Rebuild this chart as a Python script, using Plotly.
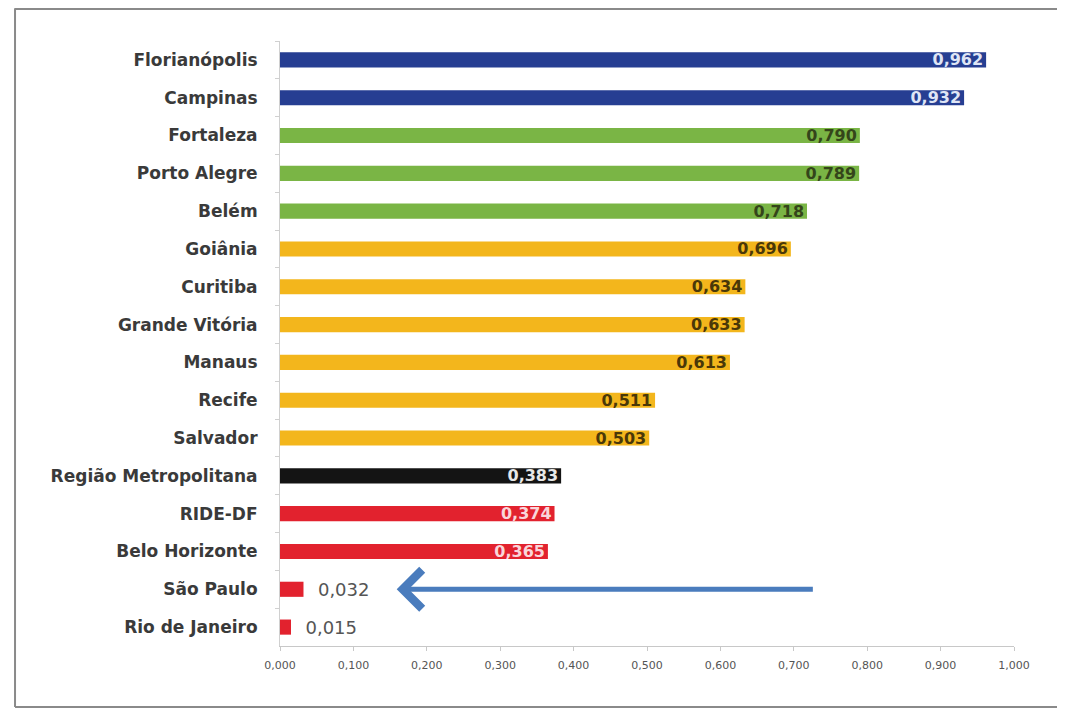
import plotly.graph_objects as go

cities = ["Florianópolis", "Campinas", "Fortaleza", "Porto Alegre", "Belém", "Goiânia",
          "Curitiba", "Grande Vitória", "Manaus", "Recife", "Salvador",
          "Região Metropolitana", "RIDE-DF", "Belo Horizonte", "São Paulo", "Rio de Janeiro"]
values = [0.962, 0.932, 0.790, 0.789, 0.718, 0.696, 0.634, 0.633, 0.613, 0.511, 0.503,
          0.383, 0.374, 0.365, 0.032, 0.015]
groups = ["blue", "blue", "green", "green", "green", "yellow", "yellow", "yellow", "yellow",
          "yellow", "yellow", "black", "red", "red", "red", "red"]
tick_vals = [0.0, 0.1, 0.2, 0.3, 0.4, 0.5, 0.6, 0.7, 0.8, 0.9, 1.0]

palette = {"blue": "#263e92", "green": "#7ab545", "yellow": "#f3b61c",
           "black": "#141414", "red": "#e2222e"}
label_color = {"blue": "#dfe5f5", "green": "#34451a", "yellow": "#4a3808",
               "black": "#e8e8e8", "red": "#f9d6da"}

bar_colors = [palette[g] for g in groups]
inside = [v > 0.1 for v in values]
text_pos = ["inside" if i else "outside" for i in inside]
text_cols = [label_color[g] if i else "#555555" for g, i in zip(groups, inside)]
text_sizes = [16 if i else 18 for i in inside]
text_wts = ["bold" if i else "normal" for i in inside]
texts = [("" if i else "\u00a0\u00a0") + f"{v:.3f}".replace(".", ",")
         for v, i in zip(values, inside)]

fig = go.Figure(go.Bar(
    x=values, y=cities, orientation="h",
    marker=dict(color=bar_colors, line=dict(width=0)),
    text=texts, textposition=text_pos, insidetextanchor="end",
    textfont=dict(family="DejaVu Sans", size=text_sizes, color=text_cols, weight=text_wts),
    constraintext="none", cliponaxis=False, hoverinfo="skip",
))

frame = dict(type="line", xref="paper", yref="paper",
             line=dict(color="#8a8a8a", width=2))
fig.update_layout(
    width=1065, height=710,
    margin=dict(l=272, r=59, t=33, b=72),
    paper_bgcolor="white", plot_bgcolor="white",
    bargap=0.6, showlegend=False,
    separators=",.",
    font=dict(family="DejaVu Sans", color="#404040"),
    xaxis=dict(range=[0, 1.0], tickvals=tick_vals, tickformat=".3f",
               showgrid=False, zeroline=False, showline=True, linecolor="#c8c8c8",
               ticks="outside", ticklen=4, tickcolor="#c8c8c8", ticklabelstandoff=5,
               tickfont=dict(size=11, color="#555555"), fixedrange=True),
    yaxis=dict(autorange="reversed", showgrid=False, showline=True, linecolor="#d0d0d0",
               ticks="outside", ticklen=4, tickcolor="#d0d0d0", tickson="boundaries",
               ticklabelstandoff=18,
               tickfont=dict(size=17, color="#3a3a3a", weight="bold")),
    shapes=[
        dict(frame, x0=-0.361, x1=-0.361, y0=-0.1008, y1=1.054),
        dict(frame, x0=-0.361, x1=1.2, y0=1.053, y1=1.053),
        dict(frame, x0=-0.361, x1=1.2, y0=-0.1008, y1=-0.1008),
    ],
    annotations=[dict(x=0.159, y="São Paulo", ax=0.728, ay="São Paulo",
                      xref="x", yref="y", axref="x", ayref="y",
                      showarrow=True, arrowhead=4, arrowsize=1.5, arrowwidth=5,
                      arrowcolor="#4a7cbd", text="")],
)

fig.write_html("out.html")
